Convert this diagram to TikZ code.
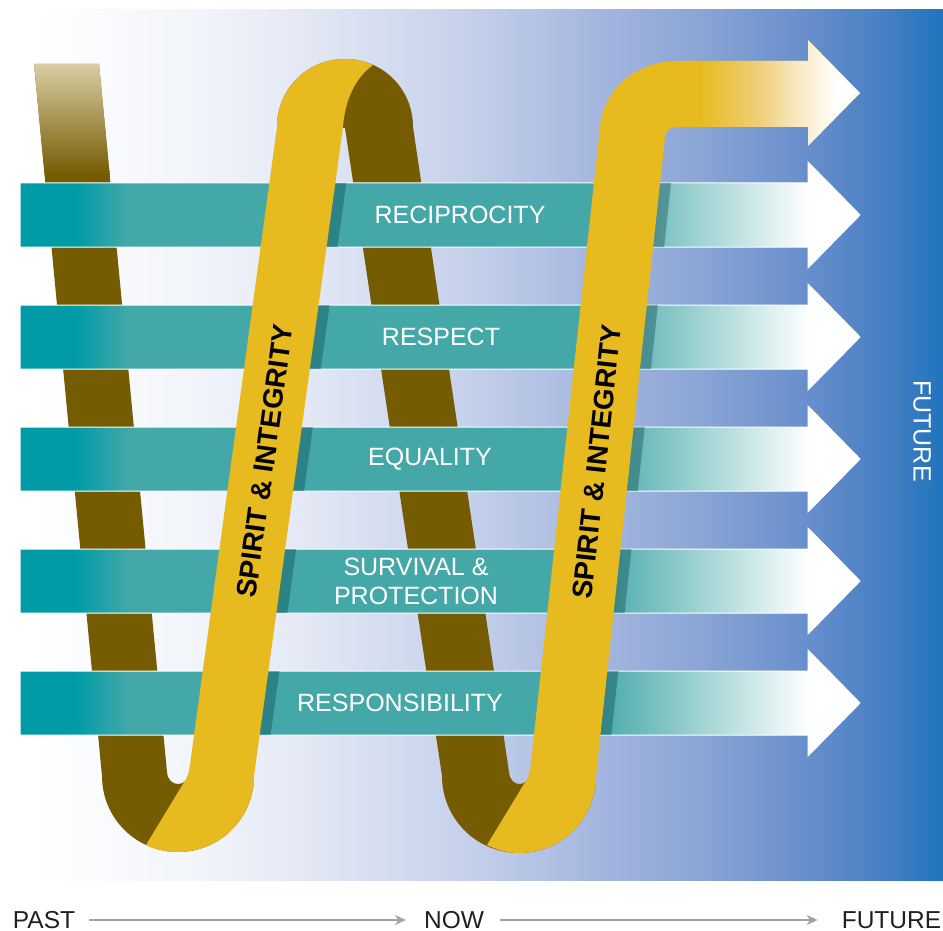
\documentclass[tikz,border=0pt]{standalone}
\usepackage{fontspec}
\setmainfont{Liberation Sans}
\usepackage{tikz}
\usetikzlibrary{calc,positioning,arrows.meta}

\definecolor{skyA}{HTML}{FFFFFF}
\definecolor{skyB}{HTML}{F1F4FA}
\definecolor{skyC}{HTML}{E4E9F5}
\definecolor{skyD}{HTML}{C5D0EA}
\definecolor{skyE}{HTML}{A4B6DF}
\definecolor{skyF}{HTML}{8BA5D5}
\definecolor{skyG}{HTML}{6A90CD}
\definecolor{skyH}{HTML}{4A80C4}
\definecolor{skyI}{HTML}{1F74BD}
\definecolor{ribbonbrown}{HTML}{755C02}
\definecolor{brownlight}{HTML}{D9CCA4}
\definecolor{ribbongold}{HTML}{E7BB20}
\definecolor{goldpale}{HTML}{F0CF7A}
\definecolor{goldwhite}{HTML}{F8EBC8}
\definecolor{tealdeep}{HTML}{009BA7}
\definecolor{tealmid}{HTML}{45A8A8}
\definecolor{tealshadow}{HTML}{003C41}
\definecolor{timegray}{HTML}{9EA3A6}
\definecolor{inkdark}{HTML}{231F20}

\pgfdeclarehorizontalshading{skyfade}{100bp}{color(0bp)=(skyA); color(25bp)=(skyA); color(33.95bp)=(skyB); color(39.48bp)=(skyC); color(48.87bp)=(skyD); color(56.05bp)=(skyE); color(61.57bp)=(skyF); color(67.1bp)=(skyG); color(71.52bp)=(skyH); color(75bp)=(skyI); color(100bp)=(skyI)}
\pgfdeclarehorizontalshading{bandfade}{100bp}{color(0bp)=(tealdeep); color(28.27bp)=(tealdeep); color(31.55bp)=(tealmid); color(59.23bp)=(tealmid); color(72bp)=(white); color(100bp)=(white)}
\pgfdeclarehorizontalshading{goldfade}{100bp}{color(0bp)=(ribbongold); color(28bp)=(ribbongold); color(45.6bp)=(goldpale); color(57.4bp)=(goldwhite); color(68.5bp)=(white); color(100bp)=(white)}

\begin{document}
\begin{tikzpicture}[x=1pt,y=-1pt,
  ribbonback/.style={fill=ribbonbrown},
  ribbonfront/.style={fill=ribbongold},
  bandarrow/.style={shade,shading=bandfade,draw=white,line width=1pt},
  bandshadow/.style={fill=tealshadow,fill opacity=0.35},
  bandlabel/.style={text=white,align=center,font=\fontsize{25}{29}\selectfont},
  spiritlabel/.style={text=black,font=\bfseries\fontsize{28}{30}\selectfont},
  timelabel/.style={text=inkdark,inner sep=0pt,font=\fontsize{24.5}{28}\selectfont},
  timeline/.style={draw=timegray,line width=2pt,-{Stealth[length=11pt,width=10pt]}}]
  \useasboundingbox (0,0) rectangle (943,931);
  \shade[shading=skyfade] (38,10) rectangle (943,880);

  \fill[ribbonback] (34,64) -- (99,64) -- (167,772) .. controls (168,788) and (188,788) .. (189,772)
    -- (254,776) .. controls (254,818) and (220,852) .. (178,852) .. controls (136,852) and (102,818) .. (102,776) -- cycle;
  \shade[top color=brownlight,bottom color=ribbonbrown] (34,64) -- (99,64) -- (109.7,175) -- (44.7,175) -- cycle;
  \fill[ribbonback] (277,127) .. controls (277,89) and (307,59) .. (345,59) .. controls (383,59) and (413,89) .. (413,127)
    -- (509,772) .. controls (510,788) and (529,788) .. (530,772) -- (596,776)
    .. controls (596,818.5) and (561.5,853) .. (519,853) .. controls (476.5,853) and (442,818.5) .. (442,776) -- (345,128) -- cycle;

  \foreach \t/\xl/\txt [count=\i] in {183/460/RECIPROCITY,305/441/RESPECT,427/430/EQUALITY,549/416/{SURVIVAL \&\\PROTECTION},671/400/RESPONSIBILITY}{
    \path[bandarrow] (20,\t) -- (808,\t) -- (808,\t-21) -- (860,\t+32) -- (808,\t+85) -- (808,\t+64) -- (20,\t+64) -- cycle;
    \pgfmathsetmacro\sa{343-0.1371*(\t-127)}
    \pgfmathsetmacro\sb{\sa-0.1371*64}
    \pgfmathsetmacro\sc{665-0.108*(\t-137)}
    \pgfmathsetmacro\sd{\sc-0.108*64}
    \fill[bandshadow] (\sa-3,\t) -- (\sa+11,\t) -- (\sb+11,\t+64) -- (\sb-3,\t+64) -- cycle;
    \fill[bandshadow] (\sc-3,\t) -- (\sc+11,\t) -- (\sd+11,\t+64) -- (\sd-3,\t+64) -- cycle;
    \node[bandlabel] (label\i) at (\xl,\t+32) {\txt};
  }

  \fill[ribbonfront] (186,779) -- (146,845) .. controls (156,850) and (167,852) .. (178,852)
    .. controls (220,852) and (254,818) .. (254,776) -- (343,127) .. controls (345,100) and (355,78) .. (373,65)
    .. controls (364,61) and (355,59) .. (345,59) .. controls (307,59) and (277,89) .. (277,127) -- (189,772) -- cycle;
  \fill[ribbonfront] (527,779) -- (487,845) .. controls (497,850) and (508,853) .. (519,853)
    .. controls (561.5,853) and (596,818.5) .. (596,776) -- (665,137) .. controls (666,130) and (670,127) .. (678,127)
    -- (808,127) -- (808,146) -- (860,93) -- (808,40) -- (808,61) -- (677,61)
    .. controls (640,61) and (604,86) .. (600,127) -- (530,772) -- cycle;
  \shade[shading=goldfade] (690,61) -- (808,61) -- (808,40) -- (860,93) -- (808,146) -- (808,127) -- (690,127) -- cycle;

  \node[spiritlabel,rotate=82.2] (spiritA) at (265,461) {SPIRIT \& INTEGRITY};
  \node[spiritlabel,rotate=83.8] (spiritB) at (597,462) {SPIRIT \& INTEGRITY};
  \node[bandlabel,rotate=-90] (sidefuture) at (922,431) {FUTURE};

  \node[timelabel] (past) at (44,920) {PAST};
  \node[timelabel] (now) at (454,920) {NOW};
  \node[timelabel] (future) at (891.5,920) {FUTURE};
  \draw[timeline,shorten <=14pt,shorten >=18pt] (past) -- (now);
  \draw[timeline,shorten <=16pt,shorten >=24pt] (now) -- (future);
\end{tikzpicture}
\end{document}
